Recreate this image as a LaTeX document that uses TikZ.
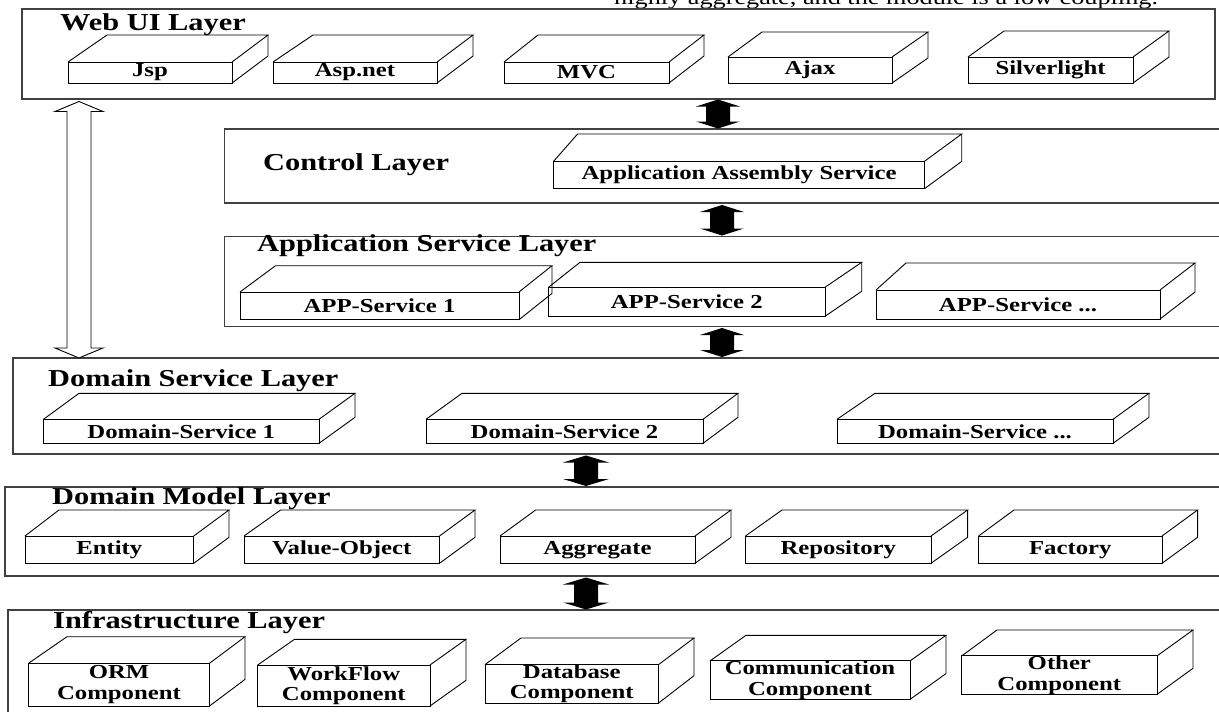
\documentclass[tikz,border=0pt]{standalone}
\usepackage{fontspec}
\setmainfont{Liberation Serif}[FakeStretch=1.25]
\usetikzlibrary{calc}
\tikzset{
  layer/.style={draw=black!75, line width=1.2pt, anchor=north west, inner sep=0pt, outer sep=0pt},
  layertitle/.style={font=\fontsize{24.3}{27}\selectfont\bfseries, anchor=base west, inner sep=0pt},
  cubefront/.style={draw=black, line width=0.9pt, inner sep=0pt, outer sep=0pt, align=center,
    font=\fontsize{19.8}{20.5}\selectfont\bfseries},
  cubeline/.style={draw=black, line width=0.9pt, line join=miter},
  beam/.style={fill=black},
  hollow/.style={draw=black, line width=0.9pt, fill=white},
  note/.style={font=\fontsize{21}{23}\selectfont, anchor=base west, inner sep=0pt}
}
\newcommand{\cubebox}[9]{%
  \node[cubefront, minimum width={(#3-#2)*1pt}, minimum height={(#5-#4)*1pt}] (#1) at ({(#2+#3)/2},{(#4+#5)/2}) {#9};
  \draw[cubeline] (#1.north west) -- (#6,#8) -- (#7,#8) -- (#1.north east);
  \draw[cubeline] (#7,#8) -- (#7,{#8+#5-#4}) -- (#1.south east);
}
\newcommand{\ibeam}[6]{%
  \path[#1] let \p1=(#2), \p2=(#3) in
   (\x1,\y1) -- (\x1+#4,\y1-#6) -- (\x1+#5,\y1-#6) -- (\x1+#5,\y2+#6) -- (\x1+#4,\y2+#6) -- (\x1,\y2)
   -- (\x1-#4,\y2+#6) -- (\x1-#5,\y2+#6) -- (\x1-#5,\y1-#6) -- (\x1-#4,\y1-#6) -- cycle;
}
\begin{document}
\begin{tikzpicture}[x=1pt,y=-1pt]
\useasboundingbox (0,0) rectangle (1219,712);

% top cut-off sentence
\node[note] (topnote) at (614,5) {highly aggregate, and the module is a low coupling.};

% layers
\node[layer, minimum width=1193pt, minimum height=90pt] (webui) at (22,9) {};
\node[layer, minimum width=1000pt, minimum height=74pt] (control) at (224.5,129) {};
\node[layer, minimum width=1000pt, minimum height=90pt] (appsvc) at (224.5,236.5) {};
\node[layer, minimum width=1210pt, minimum height=96pt] (domsvc) at (13,358) {};
\node[layer, minimum width=1220pt, minimum height=89pt] (dommod) at (5,487) {};
\node[layer, minimum width=1220pt, minimum height=120pt] (infra) at (8,610) {};

% layer titles
\node[layertitle] (webuiT) at (60,30.5) {Web UI Layer};
\node[layertitle] (controlT) at (263,170.5) {Control Layer};
\node[layertitle] (appsvcT) at (257,251.5) {Application Service Layer};
\node[layertitle] (domsvcT) at (48,386) {Domain Service Layer};
\node[layertitle] (dommodT) at (52,504) {Domain Model Layer};
\node[layertitle] (infraT) at (53,628) {Infrastructure Layer};

% Web UI components
\cubebox{jsp}{68}{232}{62}{83}{107}{268}{35}{Jsp}
\cubebox{asp}{273}{437}{62}{83}{313}{473}{35}{Asp.net}
\cubebox{mvc}{504}{669}{62}{83}{538}{704}{35}{MVC}
\cubebox{ajax}{728}{892}{57}{83}{762}{928}{32}{Ajax}
\cubebox{silver}{968}{1133}{57}{83}{1004}{1169}{31}{Silverlight}

% Control
\cubebox{aas}{553.6}{924.5}{161.3}{188.7}{577.6}{961.7}{134}{Application Assembly Service}

% Application services
\cubebox{appA}{240}{519}{292}{319.7}{275.5}{552}{265.7}{APP-Service 1}
\cubebox{appB}{548.5}{825}{287.3}{316.3}{580}{861.7}{262.3}{APP-Service 2}
\cubebox{appC}{876}{1160}{290}{319}{906}{1195}{263}{APP-Service ...}

% Domain services
\cubebox{dsA}{43.5}{319}{419.3}{443.3}{79}{355}{393.3}{Domain-Service 1}
\cubebox{dsB}{426}{703}{419.3}{443.3}{462}{738}{393.3}{Domain-Service 2}
\cubebox{dsC}{837}{1113}{419.3}{443.3}{875}{1149}{393.3}{Domain-Service ...}

% Domain model
\cubebox{entity}{25}{193.7}{536}{563.3}{59}{229}{510}{Entity}
\cubebox{valobj}{244}{439.5}{536}{563.3}{280.6}{475}{510}{Value-Object}
\cubebox{aggr}{500}{695}{536}{563.3}{535.6}{731}{510}{Aggregate}
\cubebox{repo}{745.5}{931}{536}{563.3}{782}{967.6}{510}{Repository}
\cubebox{factory}{978.6}{1162}{536}{563.3}{1014}{1197.6}{510}{Factory}

% Infrastructure
\cubebox{orm}{28.5}{209.5}{663.3}{706}{67}{245}{636.7}{ORM\\Component}
\cubebox{wflow}{257.7}{430}{665}{706}{294.5}{466}{639.3}{WorkFlow\\Component}
\cubebox{dbase}{485}{658.5}{665}{702.7}{521}{694}{638}{Database\\Component}
\cubebox{comm}{710}{910}{661}{699.3}{746}{946}{635.3}{Communication\\Component}
\cubebox{other}{961.7}{1157}{656}{694.3}{997}{1193}{630}{Other\\Component}

% arrow x references
\coordinate (xa) at (718,0);
\coordinate (xb) at (722,0);
\coordinate (xc) at (586,0);
\coordinate (xh) at (79,0);

% black double arrows between layers
\ibeam{beam}{$(webui.south -| xa)+(0,0.5)$}{$(control.north -| xa)+(0,-0.5)$}{22pt}{12pt}{7pt}
\ibeam{beam}{$(control.south -| xb)+(0,2)$}{$(appsvc.north -| xb)+(0,-1)$}{22pt}{12pt}{7pt}
\ibeam{beam}{$(appsvc.south -| xb)+(0,1.5)$}{$(domsvc.north -| xb)+(0,-1)$}{22pt}{12pt}{7pt}
\ibeam{beam}{$(domsvc.south -| xc)+(0,1.5)$}{$(dommod.north -| xc)+(0,-1)$}{23pt}{12pt}{7pt}
\ibeam{beam}{$(dommod.south -| xc)+(0,1.5)$}{$(infra.north -| xc)+(0,-0.5)$}{23pt}{12pt}{7pt}

% hollow double arrow Web UI <-> Domain Service
\ibeam{hollow}{$(webui.south -| xh)+(0,2.5)$}{$(domsvc.north -| xh)$}{24pt}{12pt}{10pt}
\end{tikzpicture}
\end{document}
